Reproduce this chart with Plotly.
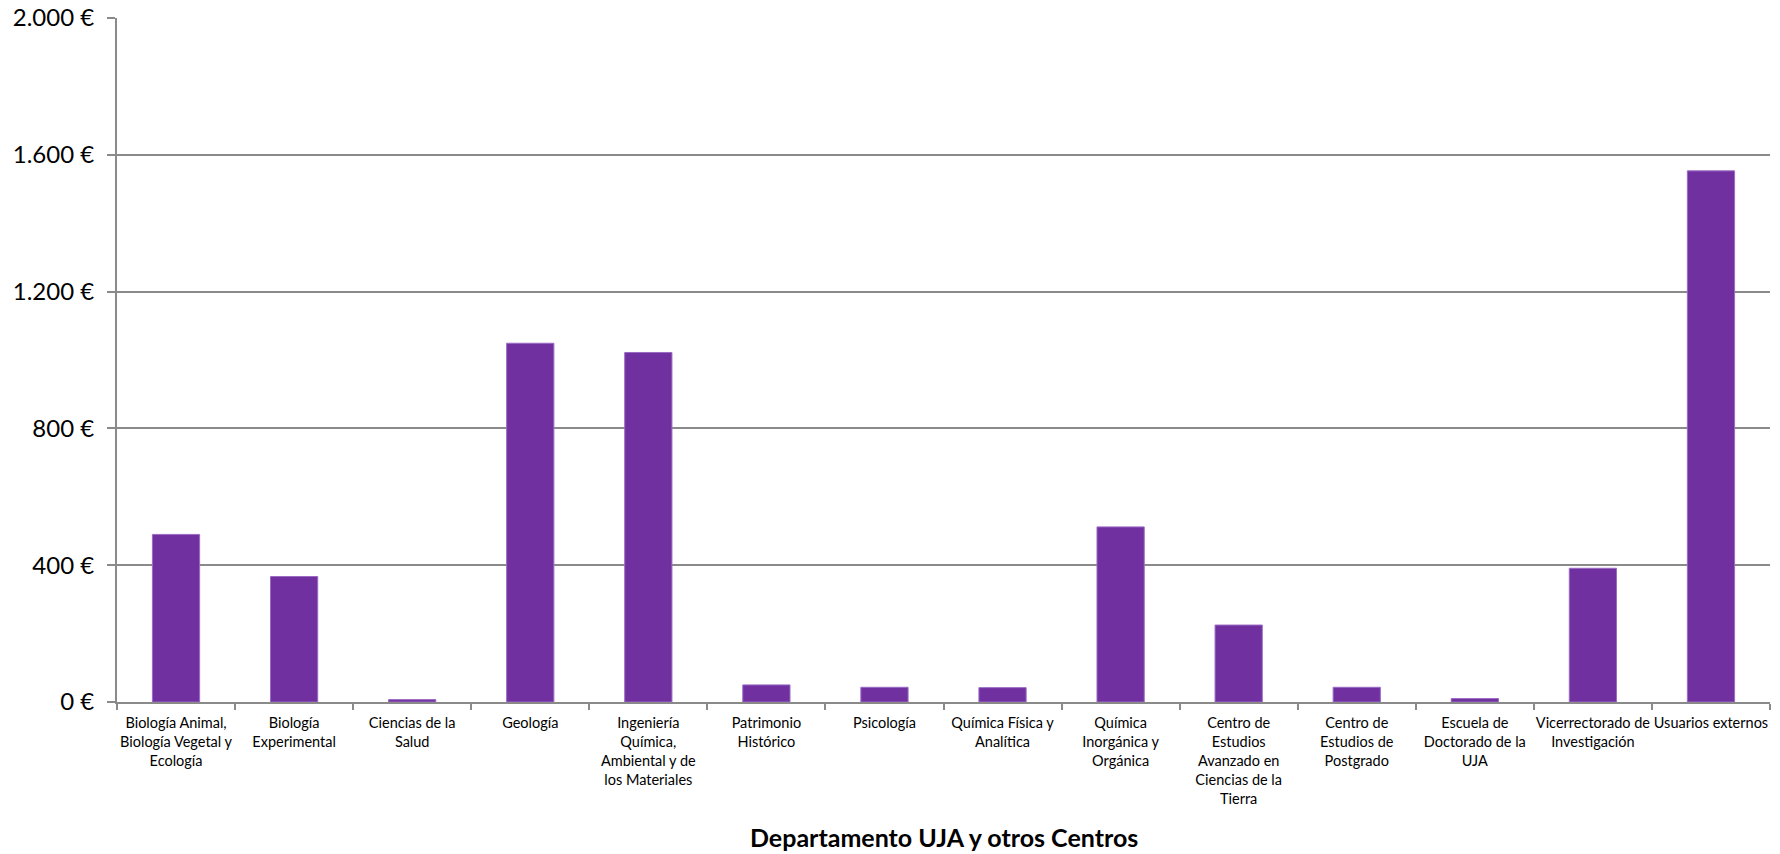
import plotly.graph_objects as go

categories = [
    "Biología Animal,<br>Biología Vegetal y<br>Ecología",
    "Biología<br>Experimental",
    "Ciencias de la<br>Salud",
    "Geología",
    "Ingeniería<br>Química,<br>Ambiental y de<br>los Materiales",
    "Patrimonio<br>Histórico",
    "Psicología",
    "Química Física y<br>Analítica",
    "Química<br>Inorgánica y<br>Orgánica",
    "Centro de<br>Estudios<br>Avanzado en<br>Ciencias de la<br>Tierra",
    "Centro de<br>Estudios de<br>Postgrado",
    "Escuela de<br>Doctorado de la<br>UJA",
    "Vicerrectorado de<br>Investigación",
    "Usuarios externos",
]
values = [490, 367, 7, 1049, 1022, 50, 43, 42, 512, 225, 43, 10, 391, 1553]

y_tickvals = [0, 400, 800, 1200, 1600, 2000]
y_ticktext = ["0 €", "400 €", "800 €", "1.200 €", "1.600 €", "2.000 €"]

x_title = "Departamento UJA y otros Centros"

grid = "#8a8a8a"
font = "Lato, Calibri, Arial, sans-serif"

fig = go.Figure()
fig.add_trace(go.Bar(
    x=categories, y=values,
    marker=dict(color="#7030A0", line=dict(color="#9b6bc4", width=1)),
))

# page body has an 8px default margin; size the figure to compensate
fig.update_layout(
    width=1772, height=846,
    margin=dict(l=109, r=10, t=10, b=152, autoexpand=False),
    paper_bgcolor="white", plot_bgcolor="white",
    bargap=0.6,
    showlegend=False,
    font=dict(family=font, color="black"),
    xaxis=dict(
        tickson="boundaries", ticks="outside", ticklen=6, tickcolor=grid, tickwidth=2,
        showline=True, linecolor=grid, linewidth=2,
        showgrid=False, tickangle=0, automargin=False,
        ticklabeloverflow="allow", ticklabelstandoff=7,
        tickfont=dict(size=14.5, family=font),
    ),
    yaxis=dict(
        range=[0, 2000], tickvals=y_tickvals, ticktext=y_ticktext,
        ticks="outside", ticklen=8, tickcolor=grid, tickwidth=2,
        showline=True, linecolor=grid, linewidth=2,
        showgrid=True, gridcolor=grid, gridwidth=2,
        zeroline=False, automargin=False,
        ticklabelstandoff=8, ticklabeloverflow="allow",
        tickfont=dict(size=24, family=font),
    ),
    annotations=[dict(
        text="<b>" + x_title + "</b>", xref="paper", yref="paper",
        x=0.5, y=-0.197, xanchor="center", yanchor="middle", showarrow=False,
        font=dict(size=25, family=font, color="black"),
    )],
)

fig.write_html("out.html")
